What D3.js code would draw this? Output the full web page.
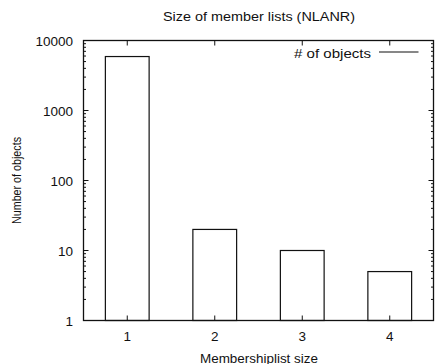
<!DOCTYPE html>
<html>
<head>
<meta charset="utf-8">
<script src="https://cdn.jsdelivr.net/npm/d3@7"></script>
<style>
  html, body { margin: 0; padding: 0; background: #fff; }
  svg { display: block; font-family: "Liberation Sans", Arial, Helvetica, sans-serif; }
</style>
</head>
<body>
<svg id="chart" width="436" height="364"></svg>
<script>
const categories = [1, 2, 3, 4];
const objectCounts = [5900, 20, 10, 5];
const yTicks = [1, 10, 100, 1000, 10000];
const seriesName = "# of objects";

const svg = d3.select("#chart");
const ink = "#111";

const x = d3.scaleLinear().domain([0.5, 4.5]).range([83.5, 433.5]);
const y = d3.scaleLog().domain([1, 10000]).range([320.5, 40.5]);

// minor log ticks 2..9 per decade
const minor = [];
for (let d = 1; d < 10000; d *= 10) {
  for (let k = 2; k <= 9; k++) minor.push(d * k);
}

const ticks = svg.append("g").attr("stroke", ink).attr("stroke-width", 1);
const [x0, x1] = x.range();
const [yb, yt] = y.range();

ticks.selectAll(".ymaj").data(yTicks).join("g").each(function (v) {
  const g = d3.select(this);
  g.append("line").attr("x1", x0).attr("x2", x0 + 5).attr("y1", y(v)).attr("y2", y(v));
  g.append("line").attr("x1", x1).attr("x2", x1 - 5).attr("y1", y(v)).attr("y2", y(v));
});
ticks.selectAll(".ymin").data(minor).join("g").each(function (v) {
  const g = d3.select(this);
  g.append("line").attr("x1", x0).attr("x2", x0 + 2.5).attr("y1", y(v)).attr("y2", y(v));
  g.append("line").attr("x1", x1).attr("x2", x1 - 2.5).attr("y1", y(v)).attr("y2", y(v));
});
ticks.selectAll(".xt").data(categories).join("g").each(function (c) {
  const g = d3.select(this);
  g.append("line").attr("x1", x(c)).attr("x2", x(c)).attr("y1", yb).attr("y2", yb - 5);
  g.append("line").attr("x1", x(c)).attr("x2", x(c)).attr("y1", yt).attr("y2", yt + 5);
});

// bars
const barW = x(1.25) - x(0.75);
svg.append("g").selectAll("rect").data(categories).join("rect")
  .attr("x", (c) => x(c) - barW / 2)
  .attr("y", (c, i) => y(objectCounts[i]))
  .attr("width", barW)
  .attr("height", (c, i) => yb - y(objectCounts[i]))
  .attr("fill", "none")
  .attr("stroke", ink)
  .attr("stroke-width", 1.2);

// frame
svg.append("rect")
  .attr("x", x0).attr("y", yt)
  .attr("width", x1 - x0).attr("height", yb - yt)
  .attr("fill", "none").attr("stroke", ink).attr("stroke-width", 1.3);

// tick labels
svg.append("g").selectAll("text").data(yTicks).join("text")
  .attr("x", 73).attr("y", (v) => y(v) + 5)
  .attr("text-anchor", "end")
  .attr("font-size", 13.5)
  .attr("fill", ink)
  .text((v) => v);

svg.append("g").selectAll("text").data(categories).join("text")
  .attr("x", (c) => x(c)).attr("y", 341)
  .attr("text-anchor", "middle")
  .attr("font-size", 13.5)
  .attr("fill", ink)
  .text((c) => c);

// title and axis labels
svg.append("text")
  .attr("x", 259).attr("y", 21)
  .attr("text-anchor", "middle")
  .attr("font-size", 12.5)
  .attr("textLength", 192).attr("lengthAdjust", "spacingAndGlyphs")
  .attr("fill", ink)
  .text("Size of member lists (NLANR)");

svg.append("text")
  .attr("x", 259).attr("y", 362.5)
  .attr("text-anchor", "middle")
  .attr("font-size", 12.5)
  .attr("textLength", 118).attr("lengthAdjust", "spacingAndGlyphs")
  .attr("fill", ink)
  .text("Membershiplist size");

svg.append("text")
  .attr("transform", "translate(20.5,180.5) rotate(-90)")
  .attr("text-anchor", "middle")
  .attr("font-size", 13.5)
  .attr("textLength", 87).attr("lengthAdjust", "spacingAndGlyphs")
  .attr("fill", ink)
  .text("Number of objects");

// legend
svg.append("text")
  .attr("x", 371).attr("y", 57.5)
  .attr("text-anchor", "end")
  .attr("font-size", 12.5)
  .attr("textLength", 77).attr("lengthAdjust", "spacingAndGlyphs")
  .attr("fill", ink)
  .text(seriesName);
svg.append("line")
  .attr("x1", 379).attr("x2", 418.5).attr("y1", 52).attr("y2", 52)
  .attr("stroke", ink).attr("stroke-width", 1.2);
</script>
</body>
</html>
